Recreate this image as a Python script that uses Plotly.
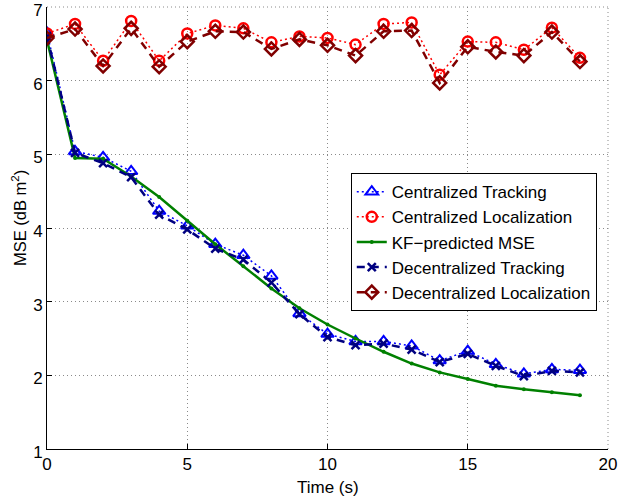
import plotly.graph_objects as go

t = list(range(20))
cent_track = [6.65, 5.04, 4.96, 4.77, 4.23, 4.03, 3.78, 3.63, 3.35, 2.84,
              2.56, 2.46, 2.46, 2.40, 2.20, 2.33, 2.15, 2.02, 2.08, 2.07]
cent_loc = [6.64, 6.77, 6.27, 6.81, 6.27, 6.64, 6.75, 6.71, 6.52, 6.60,
            6.58, 6.49, 6.77, 6.79, 6.08, 6.53, 6.52, 6.42, 6.72, 6.31]
kf_pred = [6.55, 4.95, 4.94, 4.70, 4.42, 4.10, 3.78, 3.48, 3.18, 2.91,
           2.69, 2.50, 2.32, 2.16, 2.04, 1.95, 1.86, 1.81, 1.77, 1.73]
dec_track = [6.60, 5.02, 4.88, 4.69, 4.18, 3.98, 3.72, 3.57, 3.26, 2.83,
             2.52, 2.41, 2.43, 2.35, 2.18, 2.29, 2.13, 1.99, 2.06, 2.04]
dec_loc = [6.58, 6.70, 6.20, 6.71, 6.19, 6.53, 6.67, 6.66, 6.43, 6.56,
           6.48, 6.34, 6.67, 6.68, 5.97, 6.46, 6.39, 6.34, 6.66, 6.26]

x_ticks = [0, 5, 10, 15, 20]
y_ticks = [1, 2, 3, 4, 5, 6, 7]
names = ["Centralized Tracking", "Centralized Localization", "KF\u2212predicted MSE",
         "Decentralized Tracking", "Decentralized Localization"]
x_title = "Time (s)"
y_title = "MSE (dB m<sup>2</sup>)"

fig = go.Figure()
fig.add_trace(go.Scatter(
    x=t, y=cent_track, name=names[0], mode="lines+markers",
    line=dict(color="#0000FF", width=1.5, dash="2px,3px"),
    marker=dict(symbol="triangle-up-open", size=11, color="#0000FF", line=dict(width=2, color="#0000FF"))))
fig.add_trace(go.Scatter(
    x=t, y=cent_loc, name=names[1], mode="lines+markers",
    line=dict(color="#FF0000", width=1.5, dash="2px,3px"),
    marker=dict(symbol="circle-open", size=10, color="#FF0000", line=dict(width=2.5, color="#FF0000"))))
fig.add_trace(go.Scatter(
    x=t, y=kf_pred, name=names[2], mode="lines+markers",
    line=dict(color="#008000", width=2.5),
    marker=dict(symbol="circle", size=4, color="#008000")))
fig.add_trace(go.Scatter(
    x=t, y=dec_track, name=names[3], mode="lines+markers",
    line=dict(color="#000080", width=2.5, dash="8px,6px"),
    marker=dict(symbol="x-thin", size=8, color="#000080", line=dict(width=2.5, color="#000080"))))
fig.add_trace(go.Scatter(
    x=t, y=dec_loc, name=names[4], mode="lines+markers",
    line=dict(color="#800000", width=2.5, dash="8px,6px"),
    marker=dict(symbol="diamond-open", size=10, color="#800000", line=dict(width=2.5, color="#800000"))))

font = "Liberation Sans, Arial, sans-serif"
grid_color = "#8A8A8A"
axis_common = dict(ticks="inside", ticklen=5, tickcolor="black",
                   showline=True, linecolor="black", linewidth=1, mirror=False,
                   showgrid=True, gridcolor=grid_color, griddash="1px,3px", gridwidth=1,
                   zeroline=False, automargin=False, ticklabeloverflow="allow")
fig.update_layout(
    width=620, height=497,
    margin=dict(l=47, r=12, t=7, b=48),
    paper_bgcolor="white", plot_bgcolor="white",
    font=dict(family=font, size=17, color="black"),
    showlegend=True,
    legend=dict(x=0.980, y=0.624, xanchor="right", yanchor="top",
                bgcolor="white", bordercolor="black", borderwidth=1,
                font=dict(size=17), tracegroupgap=0),
    xaxis=dict(range=[0, 20], tickvals=x_ticks, **axis_common),
    yaxis=dict(range=[1, 7], tickvals=y_ticks, ticklabelshift=3, **axis_common),
    shapes=[
        dict(type="line", xref="paper", yref="paper", x0=0, x1=1, y0=1, y1=1,
             line=dict(color=grid_color, width=1, dash="1px,3px"), layer="below"),
        dict(type="line", xref="paper", yref="paper", x0=1, x1=1, y0=0, y1=1,
             line=dict(color=grid_color, width=1, dash="1px,3px"), layer="below"),
    ],
    annotations=[
        dict(text=x_title, xref="paper", yref="paper", x=0.5, y=0, xanchor="center",
             yanchor="top", yshift=-27, showarrow=False, font=dict(size=17)),
        dict(text=y_title, xref="paper", yref="paper", x=0, y=0.5, xanchor="center",
             yanchor="middle", xshift=-28, yshift=10, textangle=-90, showarrow=False,
             font=dict(size=16.5)),
    ],
)

fig.write_html("out.html", config={"displayModeBar": False},
               post_script="document.body.style.margin='0';document.body.style.overflow='hidden';")
